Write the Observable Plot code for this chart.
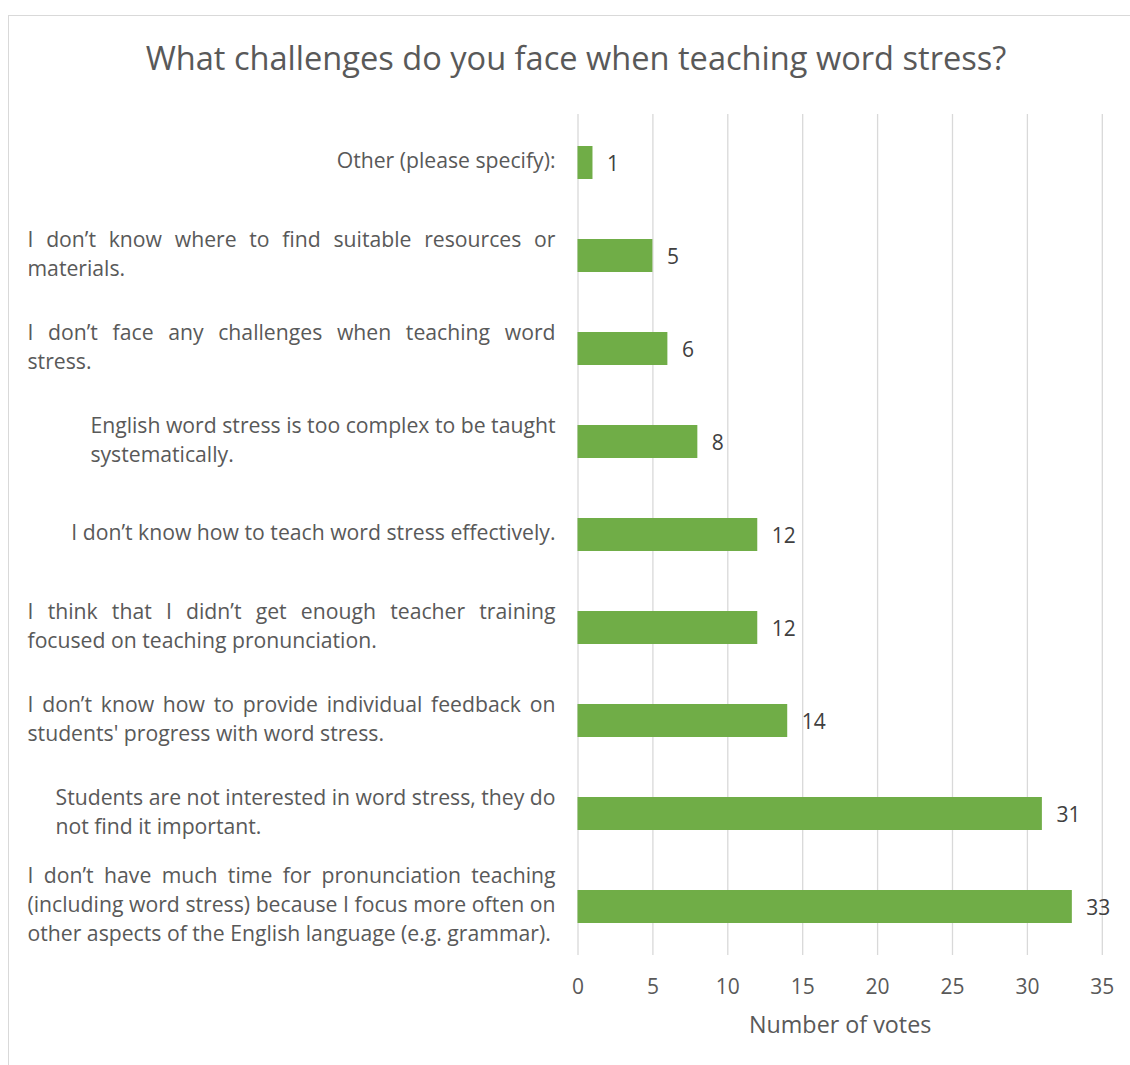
<!DOCTYPE html>
<html><head><meta charset="utf-8">
<script src="https://cdn.jsdelivr.net/npm/d3@7"></script>
<script src="https://cdn.jsdelivr.net/npm/@observablehq/plot@0.6"></script>
<style>
html,body{margin:0;padding:0;background:#fff;overflow:hidden;width:1130px;height:1065px}
#frame{position:absolute;left:8px;top:15px;width:1200px;height:1200px;border:1px solid #d9d9d9;box-sizing:border-box}
#title{position:absolute;left:0;top:42px;width:1152px;text-align:center;font:32.6px/1 'Open Sans',sans-serif;color:#595959;white-space:nowrap}
#chart{position:absolute;left:0;top:100px}
</style></head><body>
<div id="frame"></div>
<div id="title"></div>
<div id="chart"></div>
<script>
const chartTitle = "What challenges do you face when teaching word stress?";
const categoryLines = [
  ["Other (please specify):"],
  ["I don’t know where to find suitable resources or", "materials."],
  ["I don’t face any challenges when teaching word", "stress."],
  ["English word stress is too complex to be taught", "systematically."],
  ["I don’t know how to teach word stress effectively."],
  ["I think that I didn’t get enough teacher training", "focused on teaching pronunciation."],
  ["I don’t know how to provide individual feedback on", "students' progress with word stress."],
  ["Students are not interested in word stress, they do", "not find it important."],
  ["I don’t have much time for pronunciation teaching", "(including word stress) because I focus more often on", "other aspects of the English language (e.g. grammar)."]
];
const votes = [1, 5, 6, 8, 12, 12, 14, 31, 33];
const justifiedRows = [false, true, true, false, false, true, true, false, true];
const xTicks = [0, 5, 10, 15, 20, 25, 30, 35];
const xLabel = "Number of votes";

document.getElementById("title").textContent = chartTitle;

const rows = categoryLines.map((lines, i) => ({label: lines.join("\n"), value: votes[i], justify: justifiedRows[i]}));

const chart = Plot.plot({
  width: 1130, height: 965,
  marginTop: 14, marginBottom: 110, marginLeft: 577.5, marginRight: 28.2,
  style: {fontFamily: "'Open Sans', sans-serif", background: "transparent"},
  x: {domain: [0, 35], axis: null},
  y: {domain: rows.map(d => d.label), paddingInner: 0.647, paddingOuter: 0.3235, axis: null},
  marks: [
    Plot.ruleX(xTicks, {stroke: "#d9d9d9", strokeWidth: 1.3}),
    Plot.barX(rows, {x: "value", y: "label", fill: "#70ad47"}),
    Plot.text(rows, {x: "value", y: "label", text: d => String(d.value), dx: 14, dy: 1, textAnchor: "start", fill: "#404040", fontSize: 21}),
    Plot.text(rows, {y: "label", frameAnchor: "left", dx: -22.5, dy: -4, text: "label", textAnchor: "end", lineAnchor: "middle", lineHeight: 29 / 21.2, fill: "#595959", fontSize: 21.2}),
    Plot.axisX({ticks: xTicks, tickSize: 0, tickPadding: 24, fontSize: 21, color: "#595959", label: null}),
    Plot.text([xLabel], {frameAnchor: "bottom", dy: 70, lineAnchor: "middle", fontSize: 23.3, fill: "#595959"})
  ]
});
document.getElementById("chart").append(chart);

const wrapWidth = 528;
chart.querySelectorAll("text").forEach(t => {
  const spans = [...t.querySelectorAll("tspan")];
  if (spans.length < 2) return;
  const i = rows.findIndex(r => r.label.replace(/\n/g, "") === spans.map(s => s.textContent).join(""));
  if (i < 0) return;
  const widths = spans.map(s => s.getComputedTextLength());
  const block = rows[i].justify ? wrapWidth : Math.max(...widths);
  t.setAttribute("text-anchor", "start");
  spans.forEach((s, j) => {
    s.setAttribute("x", -block);
    if (rows[i].justify && j < spans.length - 1) {
      const n = (s.textContent.match(/ /g) || []).length;
      if (n) s.style.wordSpacing = ((block - widths[j]) / n) + "px";
    }
  });
});
</script>
</body></html>
